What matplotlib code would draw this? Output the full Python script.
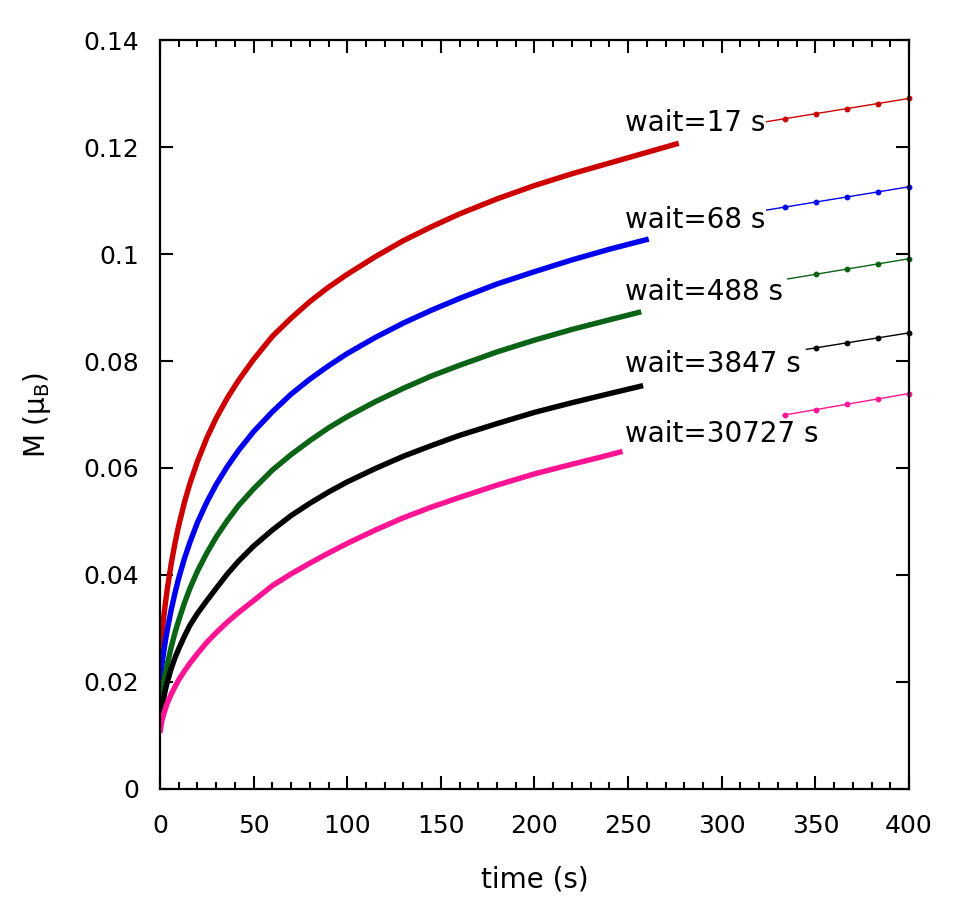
import numpy as np
import matplotlib.pyplot as plt
from matplotlib.ticker import MultipleLocator, FuncFormatter

plt.rcParams['font.family'] = ['DejaVu Sans']
plt.rcParams['mathtext.default'] = 'regular'

# Дані: час (с) та намагніченість M (мкБ)
t_17 = [0, 1, 2, 3, 4, 6, 8, 10, 13, 16, 20, 25, 30, 36, 42, 50, 60, 70, 80, 90, 100,
        115, 130, 145, 160, 180, 200, 220, 240, 260, 277]
m_17 = [0.0250, 0.0288, 0.0321, 0.0350, 0.0376, 0.0421, 0.0459, 0.0492, 0.0535, 0.0571,
        0.0612, 0.0656, 0.0693, 0.0731, 0.0764, 0.0803, 0.0846, 0.0880, 0.0911, 0.0938,
        0.0962, 0.0995, 0.1025, 0.1051, 0.1075, 0.1103, 0.1128, 0.1150, 0.1170, 0.1190,
        0.1207]

t_68 = [0, 1, 2, 3, 4, 6, 8, 10, 13, 16, 20, 25, 30, 36, 42, 50, 60, 70, 80, 90, 100,
        115, 130, 145, 160, 180, 200, 220, 240, 261]
m_68 = [0.0204, 0.0232, 0.0256, 0.0279, 0.0299, 0.0335, 0.0366, 0.0394, 0.0430, 0.0461,
        0.0498, 0.0536, 0.0569, 0.0603, 0.0633, 0.0668, 0.0705, 0.0738, 0.0766, 0.0791,
        0.0814, 0.0844, 0.0871, 0.0895, 0.0917, 0.0944, 0.0967, 0.0989, 0.1009, 0.1028]

t_488 = [0, 1, 2, 3, 4, 6, 8, 10, 13, 16, 20, 25, 30, 36, 42, 50, 60, 70, 80, 90, 100,
         115, 130, 145, 160, 180, 200, 220, 240, 257]
m_488 = [0.0157, 0.0179, 0.0199, 0.0217, 0.0234, 0.0265, 0.0292, 0.0315, 0.0347, 0.0375,
         0.0407, 0.0441, 0.0471, 0.0502, 0.0530, 0.0561, 0.0596, 0.0625, 0.0651, 0.0675,
         0.0696, 0.0724, 0.0749, 0.0772, 0.0792, 0.0817, 0.0839, 0.0859, 0.0877, 0.0892]

t_3847 = [0, 1, 2, 3, 4, 6, 8, 10, 13, 16, 20, 25, 30, 36, 42, 50, 60, 70, 80, 90, 100,
          115, 130, 145, 160, 180, 200, 220, 240, 258]
m_3847 = [0.0120, 0.0148, 0.0170, 0.0187, 0.0201, 0.0225, 0.0245, 0.0262, 0.0285, 0.0306,
          0.0328, 0.0352, 0.0375, 0.0402, 0.0426, 0.0454, 0.0484, 0.0511, 0.0534, 0.0555,
          0.0574, 0.0599, 0.0622, 0.0642, 0.0661, 0.0683, 0.0704, 0.0722, 0.0739, 0.0754]

t_30727 = [0, 1, 2, 3, 4, 6, 8, 10, 13, 16, 20, 25, 30, 36, 42, 50, 60, 70, 80, 90, 100,
           115, 130, 145, 160, 180, 200, 220, 235, 247]
m_30727 = [0.0105, 0.0127, 0.0140, 0.0151, 0.0161, 0.0177, 0.0191, 0.0204, 0.0220, 0.0235,
           0.0253, 0.0274, 0.0292, 0.0312, 0.0330, 0.0352, 0.0380, 0.0402, 0.0422, 0.0441,
           0.0459, 0.0484, 0.0507, 0.0527, 0.0545, 0.0568, 0.0589, 0.0607, 0.0620, 0.0631]

labels = ['wait=17 s', 'wait=68 s', 'wait=488 s', 'wait=3847 s', 'wait=30727 s']
colors = ['#cc0000', '#0000ee', '#0b6416', '#000000', '#ff1493']
series = [(t_17, m_17), (t_68, m_68), (t_488, m_488), (t_3847, m_3847), (t_30727, m_30727)]

# Розташування ключа (частки осей): текст і зразок лінії (x0, y0 -> правий край, y1)
key_text_x = 0.621
key_text_y = [0.889, 0.760, 0.664, 0.567, 0.474]
key_line = [(0.810, 0.891, 0.922), (0.810, 0.773, 0.804), (0.838, 0.681, 0.708),
            (0.863, 0.587, 0.609), (0.832, 0.499, 0.528)]

fig = plt.figure(figsize=(9.59, 9.14), dpi=100)
ax = fig.add_axes([0.1668, 0.1368, 0.7811, 0.8194])

for (t, m), c in zip(series, colors):
    ax.plot(t, m, color=c, lw=3.9, solid_capstyle='butt', solid_joinstyle='round')

# Ключ у стилі gnuplot: текст + лінія з точками
for lab, c, ty, (x0, y0, y1) in zip(labels, colors, key_text_y, key_line):
    ax.text(key_text_x, ty, lab, transform=ax.transAxes, fontsize=20, va='center', ha='left')
    ax.plot([x0, 1.0], [y0, y1], color=c, lw=1.0, transform=ax.transAxes, clip_on=False)
    xs = np.arange(1.0, x0, -31 / 749)
    ys = y0 + (xs - x0) * (y1 - y0) / (1.0 - x0)
    ax.plot(xs, ys, 'o', color=c, ms=3.2, transform=ax.transAxes, clip_on=False)

ax.set_xlim(0, 400)
ax.set_ylim(0, 0.14)
ax.xaxis.set_major_locator(MultipleLocator(50))
ax.xaxis.set_minor_locator(MultipleLocator(10))
ax.yaxis.set_major_locator(MultipleLocator(0.02))
ax.yaxis.set_major_formatter(FuncFormatter(lambda v, p: '%g' % round(v, 4)))

ax.tick_params(which='both', direction='in', top=True, right=True, width=1.5, labelsize=18)
ax.tick_params(which='major', length=9.5)
ax.tick_params(which='minor', length=5)
ax.tick_params(axis='x', pad=18)
ax.tick_params(axis='y', pad=15)
for s in ax.spines.values():
    s.set_linewidth(1.6)

ax.set_xlabel('time (s)', fontsize=20, labelpad=20)
ax.set_ylabel(r'M ($\mu_B$)', fontsize=20, labelpad=22)

fig.savefig('out.png', dpi=100)
